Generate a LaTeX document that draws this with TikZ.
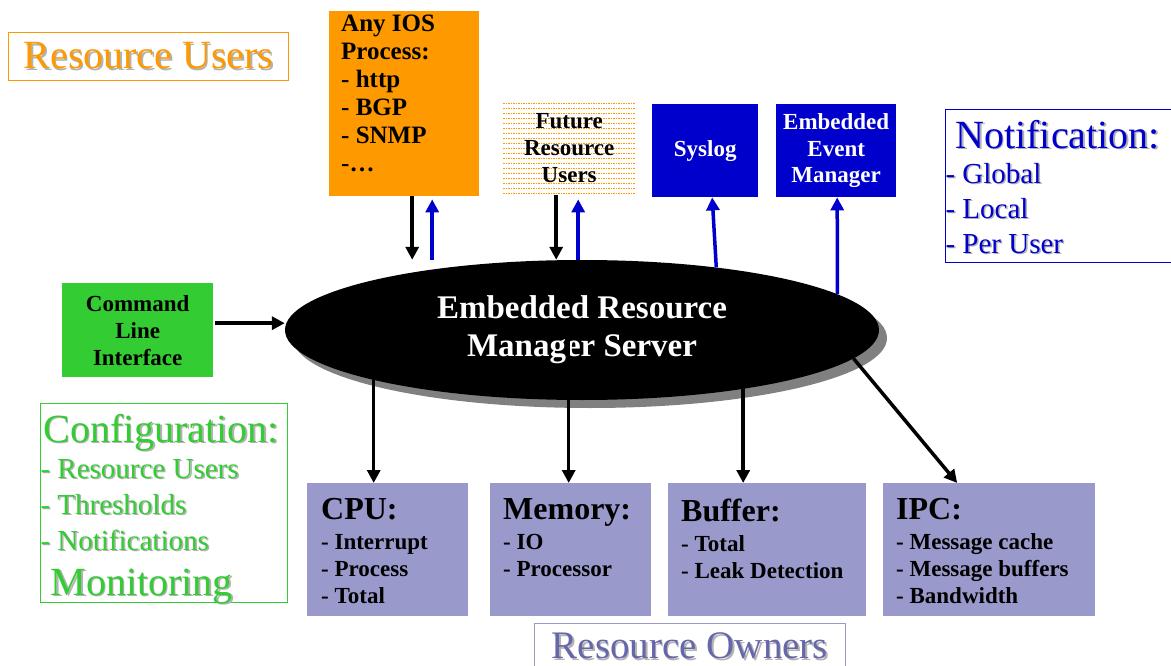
\documentclass[tikz,border=0pt]{standalone}
\usepackage{fontspec}
\setmainfont{Liberation Serif}
\usetikzlibrary{arrows.meta,shadows,shapes.geometric}

\definecolor{orng}{HTML}{FF9900}
\definecolor{cligreen}{HTML}{33CC33}
\definecolor{evblue}{HTML}{0000CC}
\definecolor{ownfill}{HTML}{9999CC}
\definecolor{owntext}{HTML}{6666AA}

\newcommand{\fsz}[2]{\fontsize{#1}{#2}\selectfont}
\newcommand{\shtxt}[2]{\leavevmode\rlap{\kern1.5pt\raisebox{-1.5pt}{\color{black!30}#2}}{\color{#1}#2}}
\newcommand{\tbox}[5]{\parbox[c][#2][t]{#1}{\raggedright\leftskip=#3\relax\vspace*{#4}#5}}
\newcommand{\ownlist}[2]{{\fsz{32}{32}\bfseries #1\par}\vspace{3pt}{\fsz{23}{27}\bfseries #2\par}}

\begin{document}
\begin{tikzpicture}[x=1pt, y=-1pt,
    dnarrow/.style={line width=3.5pt, -{Triangle[length=13pt, width=13pt]}},
    uparrow/.style={dnarrow, evblue},
    srcbox/.style={anchor=north west, inner sep=0pt},
    evbox/.style={srcbox, fill=evblue, text=white, align=center, minimum height=93pt, font=\fsz{23}{26.5}\bfseries},
    ownerbox/.style={srcbox, fill=ownfill}]
        \useasboundingbox (0, 0) rectangle (1171, 666);

        % resource users
        \node [srcbox, draw=orng, line width=1.2pt, minimum width=280pt, minimum height=48pt] (users) at (8, 32) {\fsz{40}{40}\shtxt{orng}{Resource Users}};
        \node [srcbox, fill=orng] (ios) at (329, 11) {\tbox{150pt}{185pt}{12pt}{4pt}{\fsz{25}{28}\bfseries Any IOS\\ Process:\\ - http\\ - BGP\\ - SNMP\\ -…}};
        \node [srcbox, minimum width=132pt, minimum height=94pt, align=center, font=\fsz{23}{27}\bfseries,
          path picture={\foreach \k in {0,...,18}
            \draw [orng, line width=1.3pt, dash pattern=on 1.5pt off 1pt] ([yshift=-2pt-\k*5pt]path picture bounding box.north west) -- ([yshift=-2pt-\k*5pt]path picture bounding box.north east);}] (fut) at (503, 101) {Future\\ Resource\\ Users};
        \node [evbox, minimum width=106pt] (syslog) at (652, 104) {Syslog};
        \node [evbox, minimum width=120pt] (eem) at (776, 104) {Embedded\\ Event\\ Manager};

        % notification
        \node [srcbox, draw=evblue, line width=1pt] (notif) at (945, 109) {\tbox{240pt}{153pt}{0pt}{10.5pt}{
          {\fsz{40}{40}\hspace*{10pt}\shtxt{evblue}{Notification:}\par}
          {\fsz{29}{35}\shtxt{evblue}{- Global}\par\shtxt{evblue}{- Local}\par\shtxt{evblue}{- Per User}\par}}};

        \node [srcbox, fill=cligreen, minimum width=151pt, minimum height=94pt, align=center, font=\fsz{23}{27}\bfseries] (cli) at (62, 283) {Command\\ Line\\ Interface};

        \node [ellipse, fill=black, minimum width=594pt, minimum height=140pt, inner sep=0pt, text=white, align=center, font=\fsz{33}{38}\bfseries,
          general shadow={fill=black!50, shadow xshift=8pt, shadow yshift=-8pt}] (erm) at (582, 330) {Embedded Resource\\ Manager Server};

        % configuration
        \node [srcbox, draw=cligreen, line width=1pt] (config) at (40, 403) {\tbox{247pt}{199pt}{0pt}{10.5pt}{
          {\fsz{40}{40}\hspace*{3pt}\shtxt{cligreen}{Configuration:}\par}
          {\fsz{29}{36}\shtxt{cligreen}{- Resource Users}\par\shtxt{cligreen}{- Thresholds}\par\shtxt{cligreen}{- Notifications}\par}
          {\fsz{40}{45}\hspace*{10pt}\shtxt{cligreen}{Monitoring}\par}}};

        % resource owners
        \node [ownerbox] (cpu) at (307, 483) {\tbox{161pt}{133pt}{14pt}{15.5pt}{\ownlist{CPU:}{- Interrupt\\ - Process\\ - Total}}};
        \node [ownerbox] (mem) at (490, 483) {\tbox{161pt}{133pt}{13pt}{15.5pt}{\ownlist{Memory:}{- IO\\ - Processor}}};
        \node [ownerbox] (buf) at (668, 483) {\tbox{198pt}{133pt}{13pt}{15.5pt}{\ownlist{Buffer:}{- Total\\ - Leak Detection}}};
        \node [ownerbox] (ipc) at (883, 483) {\tbox{212pt}{133pt}{13pt}{15.5pt}{\ownlist{IPC:}{- Message cache\\ - Message buffers\\ - Bandwidth}}};
        \node [srcbox, draw=ownfill, line width=1pt] (owners) at (534, 623) {\tbox{311pt}{60pt}{0pt}{9.5pt}{\centering\fsz{39}{39}\shtxt{owntext}{Resource Owners}}};

        \draw [dnarrow] ([xshift=8pt]ios.south) -- ([xshift=8pt]ios.south |- erm.north);
        \draw [uparrow] ([xshift=28pt]ios.south |- erm.north) -- ([xshift=28pt, yshift=-3pt]ios.south);
        \draw [dnarrow] ([xshift=-13pt]fut.south) -- ([xshift=-13pt]fut.south |- erm.north);
        \draw [uparrow] ([xshift=9pt]fut.south |- erm.north) -- ([xshift=9pt, yshift=-4pt]fut.south);
        \draw [uparrow] (erm.25) -- ([xshift=7pt]syslog.south);
        \draw [uparrow] (erm.8) -- ([xshift=1pt]eem.south);
        \draw [dnarrow] ([xshift=2pt, yshift=7pt]cli.east) -- ([yshift=7pt]cli.east -| erm.west);

        \draw [dnarrow] ([xshift=-14pt]cpu.north |- erm.center) -- ([xshift=-14pt]cpu.north);
        \draw [dnarrow] ([xshift=-2pt]mem.north |- erm.center) -- ([xshift=-2pt]mem.north);
        \draw [dnarrow] ([xshift=-24pt]buf.north |- erm.center) -- ([xshift=-24pt]buf.north);
        \draw [dnarrow] (erm.-6) -- ([xshift=-32pt]ipc.north);
\end{tikzpicture}
\end{document}
